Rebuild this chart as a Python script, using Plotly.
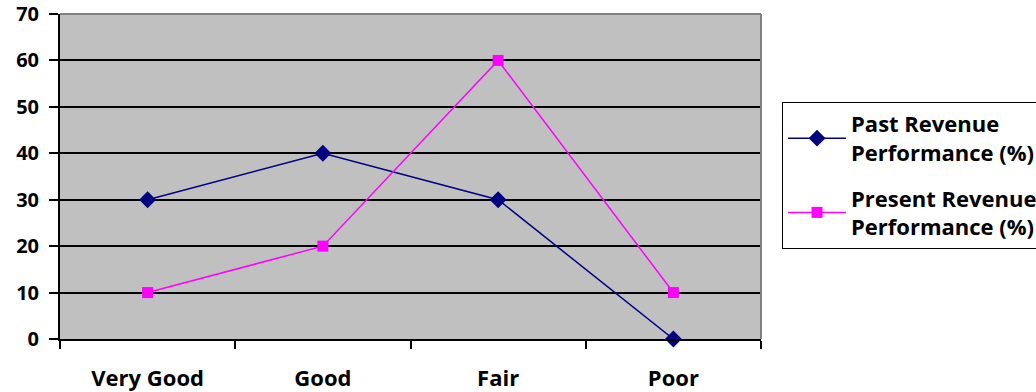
import plotly.graph_objects as go

categories = ["Very Good", "Good", "Fair", "Poor"]
past_revenue = [30, 40, 30, 0]
present_revenue = [10, 20, 60, 10]
y_ticks = [0, 10, 20, 30, 40, 50, 60, 70]

FONT = "Open Sans"

fig = go.Figure()
fig.add_trace(go.Scatter(
    x=categories, y=past_revenue, mode="lines+markers",
    name="Past Revenue<br>Performance (%)", legendgroup="past",
    line=dict(color="#000080", width=1.5),
    marker=dict(symbol="diamond", size=13, color="#000080"),
    cliponaxis=False,
))
fig.add_trace(go.Scatter(
    x=categories, y=present_revenue, mode="lines+markers",
    name="Present Revenue<br>Performance (%)", legendgroup="present",
    line=dict(color="#FF00FF", width=1.5),
    marker=dict(symbol="square", size=11, color="#FF00FF"),
    cliponaxis=False,
))

# grey frame on the top and right edges of the plot area
fig.add_shape(type="line", xref="x domain", yref="y domain",
              x0=0, x1=1, y0=1, y1=1, line=dict(color="#808080", width=2), layer="above")
fig.add_shape(type="line", xref="x domain", yref="y domain",
              x0=1, x1=1, y0=0, y1=1, line=dict(color="#808080", width=2), layer="above")

fig.update_layout(
    width=1036, height=392,
    margin=dict(l=60, r=275, t=14, b=53, autoexpand=False),
    paper_bgcolor="white",
    plot_bgcolor="#C0C0C0",
    font=dict(family=FONT, size=20, color="black"),
    showlegend=True,
    legend=dict(
        x=1.03, xanchor="left", y=0.729, yanchor="top",
        bordercolor="black", borderwidth=1, bgcolor="white",
        font=dict(family=FONT, size=22, color="black", weight="bold"),
        tracegroupgap=14, itemwidth=58,
    ),
)
fig.update_xaxes(
    type="category", tickson="boundaries", range=[-0.5, 3.5], automargin=False,
    showline=True, linecolor="black", linewidth=2,
    ticks="outside", ticklen=8, tickcolor="black", tickwidth=2,
    showgrid=False,
    tickfont=dict(family=FONT, size=22, color="black", weight="bold"),
    ticklabelstandoff=19,
)
fig.update_yaxes(
    range=[0, 70], tickvals=y_ticks, automargin=False,
    showline=True, linecolor="black", linewidth=2,
    ticks="outside", ticklen=9, tickcolor="black", tickwidth=2,
    showgrid=True, gridcolor="black", gridwidth=1.5,
    zeroline=False,
    tickfont=dict(family=FONT, size=20, color="black", weight="bold"),
    ticklabelstandoff=6,
)

fig.write_html("out.html")
